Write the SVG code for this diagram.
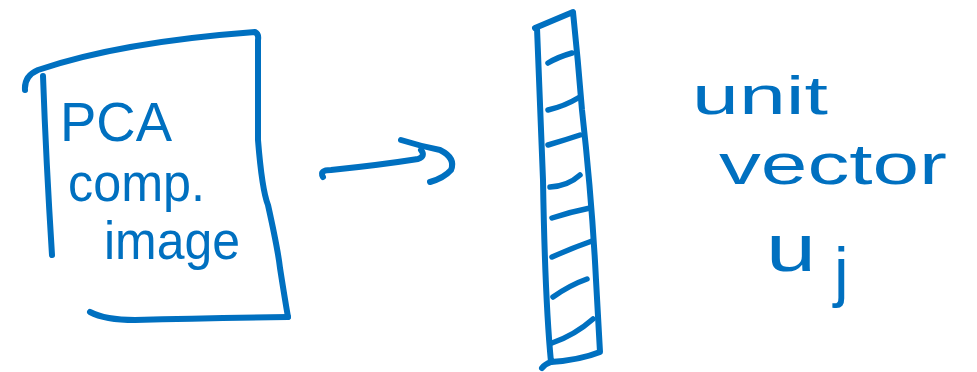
<svg xmlns="http://www.w3.org/2000/svg" width="977" height="372" viewBox="0 0 977 372">
<style>
.ink{fill:none;stroke:#0070C0;stroke-width:6;stroke-linecap:round;stroke-linejoin:round}
.hatch{fill:none;stroke:#0070C0;stroke-width:5.5;stroke-linecap:round}
.t{fill:#0070C0;font-family:"Liberation Sans","DejaVu Sans",sans-serif}
</style>
<rect width="977" height="372" fill="#ffffff"/>
<g id="image-page">
<path class="ink" d="M25,90 Q24,76 38,70 Q120,42 255,32 Q259,34 258,40 L258,140 Q262,190 268,205 Q278,250 280,268 Q285,300 288,317"/>
<path class="ink" d="M43,76 Q46,160 52,255"/>
<path class="ink" d="M90,312 Q105,320 135,320 Q200,318 288,317"/>
<text class="t" x="60" y="141" font-size="56" textLength="112" lengthAdjust="spacingAndGlyphs">PCA</text>
<text class="t" x="68" y="201" font-size="54" textLength="137" lengthAdjust="spacingAndGlyphs">comp.</text>
<text class="t" x="104" y="259" font-size="54" textLength="136" lengthAdjust="spacingAndGlyphs">image</text>
</g>
<g id="connectors">
<path class="ink" d="M323,177 Q319,170 331,170 Q380,165 418,159 Q426,156 421,150"/>
<path class="ink" d="M401,140 Q420,146 440,150 Q456,158 451,170 Q444,178 430,182"/>
</g>
<g id="vector-bar">
<path class="ink" d="M535,28 L573,12 Q578,60 582,110 Q592,200 596,280 L600,352 Q580,360 551,362 Q545,300 543,180 Q540,100 537,28"/>
<path class="ink" d="M551,362 Q545,364 542,368"/>
<path class="hatch" d="M548,63 Q558,57 572,53"/>
<path class="hatch" d="M548,110 Q565,106 578,98"/>
<path class="hatch" d="M548,145 Q565,140 580,135"/>
<path class="hatch" d="M550,187 Q568,186 580,175"/>
<path class="hatch" d="M552,218 Q570,212 590,208"/>
<path class="hatch" d="M552,257 Q572,248 592,241"/>
<path class="hatch" d="M553,297 Q570,285 587,279"/>
<path class="hatch" d="M552,343 Q575,335 593,319"/>
</g>
<g id="label">
<text class="t" x="692" y="114" font-size="54" textLength="136" lengthAdjust="spacingAndGlyphs">unit</text>
<text class="t" x="719" y="184" font-size="58" textLength="228" lengthAdjust="spacingAndGlyphs">vector</text>
<text class="t" x="766" y="271" font-size="66" textLength="50" lengthAdjust="spacingAndGlyphs">u</text>
<text class="t" x="834" y="294" font-size="66">j</text>
</g>
</svg>
